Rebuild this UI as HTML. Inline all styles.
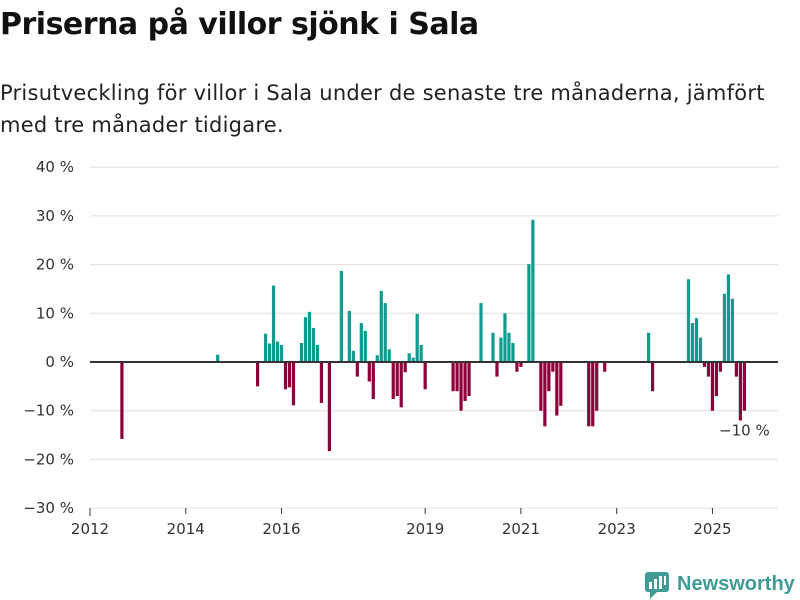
<!DOCTYPE html>
<html><head><meta charset="utf-8"><style>
body{margin:0;width:800px;height:600px;background:#fff;font-family:"Liberation Sans","DejaVu Sans",sans-serif;overflow:hidden;position:relative}
h1{position:absolute;left:0;top:7px;margin:0;font-size:30px;font-weight:bold;color:#111;font-family:"DejaVu Sans","Liberation Sans",sans-serif;letter-spacing:-0.5px}
.sub{position:absolute;left:0;top:77px;margin:0;font-size:21px;line-height:32px;color:#222;font-family:"DejaVu Sans","Liberation Sans",sans-serif;letter-spacing:0.25px}
svg{position:absolute;left:0;top:0}
text{font-family:"DejaVu Sans","Liberation Sans",sans-serif;font-size:15px;fill:#333}
</style></head><body>
<h1>Priserna på villor sjönk i Sala</h1>
<p class="sub">Prisutveckling för villor i Sala under de senaste tre månaderna, jämfört<br>med tre månader tidigare.</p>
<svg id="chart" width="800" height="600"></svg>
<svg width="800" height="600" style="pointer-events:none">
<rect x="645" y="572" width="24" height="20" rx="3" fill="#3f9b95"/>
<polygon points="650,592 657,592 650,599" fill="#3f9b95"/>
<rect x="649" y="582" width="3" height="7" fill="#fff"/><rect x="654" y="579" width="3" height="10" fill="#fff"/><rect x="659" y="576" width="3" height="13" fill="#fff"/><rect x="664" y="576" width="2" height="9" fill="#fff"/>
<text x="677" y="590" style="font-size:20px;fill:#3f9b95;font-weight:bold;font-family:'Liberation Sans',sans-serif">Newsworthy</text>
</svg>
<script>
const months=[8,32,42,44,45,46,47,48,49,50,51,53,54,55,56,57,58,60,63,65,66,67,68,69,70,71,72,73,74,75,76,77,78,79,80,81,82,83,84,91,92,93,94,95,98,101,102,103,104,105,106,107,108,110,111,113,114,115,116,117,118,125,126,127,129,140,141,150,151,152,153,154,155,156,157,158,159,160,161,162,163,164];
const values=[-15.8,1.5,-5,5.8,3.8,15.7,4.2,3.5,-5.6,-5.2,-8.9,3.9,9.2,10.3,7,3.5,-8.4,-18.3,18.7,10.5,2.3,-3,8,6.4,-4,-7.6,1.4,14.6,12.1,2.6,-7.6,-7,-9.3,-2.1,1.8,0.9,9.9,3.5,-5.6,-6,-6,-10,-8,-7,12.1,6,-3,5,10,6,3.9,-2,-1,20.1,29.2,-10,-13.2,-6,-2,-11,-9,-13.2,-13.2,-10,-2,6,-6,17,8,9,5,-1,-3,-10,-7,-2,14,18,13,-3,-12,-10];
const yTicks=[40,30,20,10,0,-10,-20,-30];
const xTickYears=[2012,2014,2016,2019,2021,2023,2025];
const ns="http://www.w3.org/2000/svg",svg=document.getElementById('chart');
const x=m=>90+m*3.99;
const y=v=>362-v*4.87;
function mk(t,a){const e=document.createElementNS(ns,t);for(const k in a)e.setAttribute(k,a[k]);svg.appendChild(e);return e;}
yTicks.forEach(v=>{
 const g=mk('line',{x1:90,x2:778,y1:y(v),y2:y(v),stroke:'#e0e0e0','stroke-width':1});
 
 
 const t=mk('text',{x:74,y:y(v)+5,'text-anchor':'end'});t.textContent=(v<0?'−'+(-v):v)+' %';
 
 
});
mk('line',{x1:90,x2:90,y1:508,y2:516,stroke:'#333'});
xTickYears.forEach(yr=>{
 const xx=x((yr-2012)*12);
 const l=mk('line',{x1:xx,x2:xx,y1:508,y2:514,stroke:'#333'});
 
 
 const t=mk('text',{x:xx,y:534,'text-anchor':'middle'});t.textContent=yr;
 
 
});
months.forEach((m,i)=>{
 const v=values[i];
 const r=mk('rect',{x:x(m)-1.6,width:3.2,y:Math.min(y(v),y(0)),height:Math.abs(y(v)-y(0)),fill:v>=0?'#0f9b8e':'#8b0038'});
 
 
});
const z=mk('line',{x1:90,x2:778,y1:y(0),y2:y(0),stroke:'#333','stroke-width':2});


const lastM=months[months.length-1],lastV=values[values.length-1];
const a=mk('text',{x:x(lastM),y:y(lastV)+25,'text-anchor':'middle','font-size':'14'});
a.textContent='−'+Math.abs(lastV)+' %';


</script>
</body></html>
